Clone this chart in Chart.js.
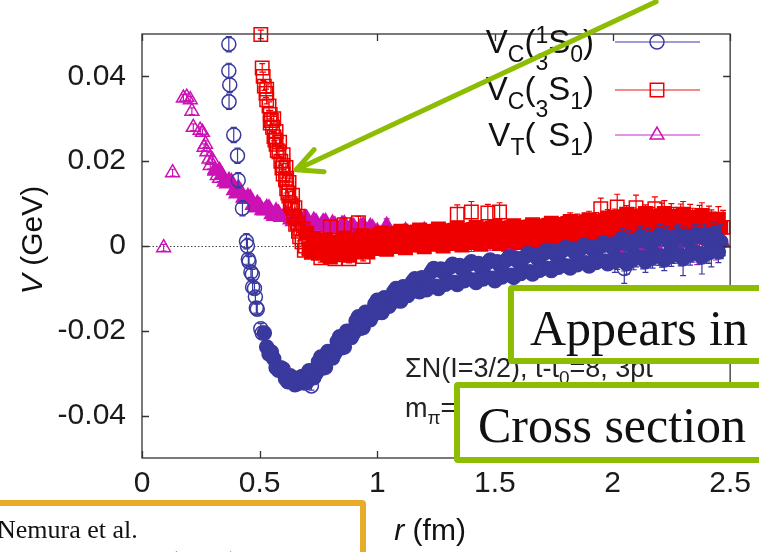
<!DOCTYPE html>
<html>
<head>
<meta charset="utf-8">
<script src="https://cdn.jsdelivr.net/npm/chart.js@4.4.1/dist/chart.umd.min.js"></script>
<style>
  html, body { margin: 0; padding: 0; background: #fff; overflow: hidden; }
  #wrap { position: relative; width: 759px; height: 552px; overflow: hidden; background: #fff; }
  #plot { position: absolute; left: 0; top: 0; }
  .tag {
    position: absolute; box-sizing: border-box; background: #fff;
    border: 6px solid #8cbd00; border-radius: 4px;
    font-family: "Liberation Serif", "Times New Roman", serif; color: #111; white-space: nowrap;
  }
  .tag span { position: absolute; font-size: 50px; line-height: 50px; }
  .cite {
    position: absolute; box-sizing: border-box; background: #fff;
    border: 6px solid #e9ab2a; border-radius: 4px;
    font-family: "Liberation Serif", "Times New Roman", serif; color: #111; white-space: nowrap;
  }
  .cite span { position: absolute; font-size: 26px; line-height: 26px; }
</style>
</head>
<body>
<div id="wrap">
  <canvas id="plot" width="759" height="552"></canvas>
  <div class="tag" style="left:508px; top:285px; width:300px; height:79px;"><span style="left:16px; top:12px;">Appears in</span></div>
  <div class="tag" style="left:454px; top:382px; width:360px; height:81px;"><span style="left:18px; top:12px;">Cross section</span></div>
  <div class="cite" style="left:-30px; top:500px; width:396px; height:90px;">
    <span style="left:21px; top:11px;">Nemura et al.</span>
    <span style="left:21px; top:42px;">Few Body Syst. (2013) 54:1223-1226</span>
  </div>
</div>
<script>
// axis ticks
const xTicks = [0, 0.5, 1, 1.5, 2, 2.5];
const xTickLabels = ['0', '0.5', '1', '1.5', '2', '2.5'];
const yTicks = [-0.04, -0.02, 0, 0.02, 0.04];
const yTickLabels = ['-0.04', '-0.02', '0', '0.02', '0.04'];

// V_C(1S0): r (fm), V (GeV), error (GeV)
// order: isolated short-range points | lattice band (even grid) | lattice band (odd grid) | stragglers
const r1S0 = [0.369,0.369,0.373,0.370,0.390,0.406,0.409,0.427,0.444,0.448,0.452,0.455,0.463,0.469,0.470,0.478,0.482,0.486,0.490,0.505,0.511,
  0.52,0.54,0.56,0.58,0.60,0.62,0.64,0.66,0.68,0.70,0.72,0.74,0.76,0.78,0.80,0.82,0.84,0.86,0.88,0.90,0.92,0.94,0.96,0.98,
  1.00,1.02,1.04,1.06,1.08,1.10,1.12,1.14,1.16,1.18,1.20,1.22,1.24,1.26,1.28,1.30,1.32,1.34,1.36,1.38,1.40,1.42,1.44,1.46,1.48,1.50,1.52,1.54,1.56,1.58,
  1.60,1.62,1.64,1.66,1.68,1.70,1.72,1.74,1.76,1.78,1.80,1.82,1.84,1.86,1.88,1.90,1.92,1.94,1.96,1.98,
  2.00,2.02,2.04,2.06,2.08,2.10,2.12,2.14,2.16,2.18,2.20,2.22,2.24,2.26,2.28,2.30,2.32,2.34,2.36,2.38,2.40,2.42,2.44,2.46,
  0.53,0.55,0.57,0.59,0.61,0.63,0.65,0.67,0.69,0.71,0.73,0.75,0.77,0.79,0.81,0.83,0.85,0.87,0.89,0.91,0.93,0.95,0.97,0.99,
  1.01,1.03,1.05,1.07,1.09,1.11,1.13,1.15,1.17,1.19,1.21,1.23,1.25,1.27,1.29,1.31,1.33,1.35,1.37,1.39,1.41,1.43,1.45,1.47,1.49,1.51,1.53,1.55,1.57,1.59,
  1.61,1.63,1.65,1.67,1.69,1.71,1.73,1.75,1.77,1.79,1.81,1.83,1.85,1.87,1.89,1.91,1.93,1.95,1.97,1.99,
  2.01,2.03,2.05,2.07,2.09,2.11,2.13,2.15,2.17,2.19,2.21,2.23,2.25,2.27,2.29,2.31,2.33,2.35,2.37,2.39,2.41,2.43,2.45,
  0.72,2.05];
const v1S0 = [0.0476,0.0413,0.0380,0.0340,0.0262,0.0213,0.0155,0.0089,0.0011,0.0000,-0.0031,-0.0037,-0.0062,-0.0067,-0.0097,-0.0100,-0.0120,-0.0146,-0.0149,-0.0195,-0.0205,
  -0.0205,-0.0255,-0.0266,-0.0293,-0.0290,-0.0320,-0.0314,-0.0325,-0.0308,-0.0322,-0.0295,-0.0301,-0.0262,-0.0286,-0.0249,-0.0253,-0.0214,-0.0238,-0.0201,-0.0205,-0.0167,-0.0192,-0.0157,-0.0164,
  -0.0128,-0.0157,-0.0125,-0.0134,-0.0100,-0.0130,-0.0099,-0.0109,-0.0077,-0.0108,-0.0076,-0.0095,-0.0053,-0.0100,-0.0062,-0.0082,-0.0043,-0.0091,-0.0054,-0.0075,-0.0037,-0.0086,-0.0050,-0.0071,-0.0033,-0.0082,-0.0045,-0.0065,-0.0026,-0.0074,
  -0.0037,-0.0057,-0.0018,-0.0066,-0.0029,-0.0049,-0.0010,-0.0058,-0.0022,-0.0042,-0.0004,-0.0052,-0.0016,-0.0036,0.0002,-0.0047,-0.0011,-0.0032,0.0007,-0.0042,
  -0.0004,-0.0030,0.0017,-0.0042,0.0002,-0.0024,0.0022,-0.0037,0.0006,-0.0020,0.0026,-0.0033,0.0010,-0.0016,0.0025,-0.0030,0.0013,-0.0013,0.0025,-0.0026,0.0017,-0.0009,0.0020,0.0010,
  -0.0238,-0.0250,-0.0287,-0.0287,-0.0313,-0.0306,-0.0327,-0.0311,-0.0323,-0.0294,-0.0311,-0.0273,-0.0288,-0.0249,-0.0264,-0.0225,-0.0240,-0.0201,-0.0216,-0.0177,-0.0194,-0.0156,-0.0174,-0.0137,
  -0.0156,-0.0122,-0.0142,-0.0108,-0.0129,-0.0096,-0.0117,-0.0084,-0.0106,-0.0075,-0.0103,-0.0061,-0.0095,-0.0054,-0.0090,-0.0050,-0.0086,-0.0046,-0.0082,-0.0043,-0.0080,-0.0041,-0.0078,-0.0039,-0.0076,-0.0037,-0.0073,-0.0033,-0.0069,-0.0029,
  -0.0065,-0.0025,-0.0061,-0.0021,-0.0057,-0.0017,-0.0053,-0.0013,-0.0050,-0.0010,-0.0047,-0.0007,-0.0044,-0.0004,-0.0041,-0.0002,-0.0039,0.0000,-0.0036,0.0003,
  -0.0037,0.0008,-0.0034,0.0011,-0.0031,0.0014,-0.0029,0.0016,-0.0027,0.0018,-0.0025,0.0020,-0.0023,0.0022,-0.0022,0.0023,-0.0020,0.0025,-0.0018,0.0027,-0.0016,0.0029,-0.0014,
  -0.0330,-0.0053];
const e1S0 = [0.0018,0.0018,0.0018,0.0018,0.0018,0.0018,0.0018,0.0018,0.0018,0.0018,0.0012,0.0012,0.0012,0.0012,0.0012,0.0012,0.0012,0.0012,0.0012,0.0012,0.0012,
  0.0008,0.0008,0.0008,0.0008,0.0008,0.0008,0.0008,0.0008,0.0008,0.0008,0.0008,0.0008,0.0008,0.0008,0.0008,0.0008,0.0008,0.0008,0.0008,0.0008,0.0008,0.0008,0.0008,0.0008,
  0.0010,0.0010,0.0010,0.0010,0.0010,0.0010,0.0010,0.0010,0.0010,0.0010,0.0010,0.0010,0.0010,0.0010,0.0010,0.0010,0.0010,0.0010,0.0010,0.0010,0.0010,0.0010,0.0010,0.0010,0.0010,0.0010,0.0010,0.0010,0.0010,0.0010,
  0.0015,0.0015,0.0015,0.0015,0.0015,0.0015,0.0015,0.0015,0.0015,0.0015,0.0015,0.0015,0.0015,0.0015,0.0015,0.0015,0.0015,0.0015,0.0015,0.0015,
  0.0025,0.0025,0.0025,0.0025,0.0025,0.0025,0.0025,0.0025,0.0025,0.0025,0.0025,0.0025,0.0025,0.0025,0.0025,0.0040,0.0025,0.0025,0.0025,0.0040,0.0025,0.0040,0.0025,0.0040,
  0.0008,0.0008,0.0008,0.0008,0.0008,0.0008,0.0008,0.0008,0.0008,0.0008,0.0008,0.0008,0.0008,0.0008,0.0008,0.0008,0.0008,0.0008,0.0008,0.0008,0.0008,0.0008,0.0008,0.0008,
  0.0010,0.0010,0.0010,0.0010,0.0010,0.0010,0.0010,0.0010,0.0010,0.0010,0.0010,0.0010,0.0010,0.0010,0.0010,0.0010,0.0010,0.0010,0.0010,0.0010,0.0010,0.0010,0.0010,0.0010,0.0010,0.0010,0.0010,0.0010,0.0010,0.0010,
  0.0015,0.0015,0.0015,0.0015,0.0015,0.0015,0.0015,0.0015,0.0015,0.0015,0.0015,0.0015,0.0015,0.0015,0.0015,0.0015,0.0015,0.0015,0.0015,0.0015,
  0.0025,0.0025,0.0025,0.0025,0.0025,0.0025,0.0025,0.0025,0.0025,0.0025,0.0025,0.0025,0.0025,0.0025,0.0025,0.0025,0.0025,0.0025,0.0025,0.0025,0.0025,0.0025,0.0025,
  0.0010,0.0035];

// V_C(3S1)
const r3S1 = [0.505,0.511,0.515,0.520,0.527,0.530,0.530,0.540,0.545,0.545,0.550,0.555,0.561,0.565,0.570,0.575,0.582,0.590,0.595,0.600,0.600,0.610,0.615,0.615,0.620,0.624,0.630,0.635,0.640,0.645,0.653,0.660,0.665,0.670,0.675,0.680,0.690,0.695,
  0.560,0.570,0.585,0.600,0.612,0.625,0.640,0.650,0.665,0.685,
  0.70,0.72,0.74,0.76,0.78,0.80,0.82,0.84,0.86,0.88,0.90,0.92,0.94,0.96,0.98,1.00,1.02,1.04,1.06,1.08,1.10,1.12,1.14,1.16,1.18,1.20,1.22,1.24,1.26,1.28,
  1.30,1.32,1.34,1.36,1.38,1.40,1.42,1.44,1.46,1.48,1.50,1.52,1.54,1.56,1.58,1.60,1.62,1.64,1.66,1.68,1.70,1.72,1.74,1.76,1.78,
  1.80,1.82,1.84,1.86,1.88,1.90,1.92,1.94,1.96,1.98,2.00,2.02,2.04,2.06,2.08,2.10,2.12,2.14,2.16,2.18,
  2.20,2.22,2.24,2.26,2.28,2.30,2.32,2.34,2.36,2.38,2.40,2.42,2.44,2.46,
  0.71,0.73,0.75,0.77,0.79,0.81,0.83,0.85,0.87,0.89,0.91,0.93,0.95,0.97,0.99,1.01,1.03,1.05,1.07,1.09,1.11,1.13,1.15,1.17,1.19,1.21,1.23,1.25,1.27,1.29,
  1.31,1.33,1.35,1.37,1.39,1.41,1.43,1.45,1.47,1.49,1.51,1.53,1.55,1.57,1.59,1.61,1.63,1.65,1.67,1.69,1.71,1.73,1.75,1.77,1.79,
  1.81,1.83,1.85,1.87,1.89,1.91,1.93,1.95,1.97,1.99,2.01,2.03,2.05,2.07,2.09,2.11,2.13,2.15,2.17,2.19,
  2.21,2.23,2.25,2.27,2.29,2.31,2.33,2.35,2.37,2.39,2.41,2.43,2.45,
  0.76,0.80,0.82,0.86,0.88,0.92,0.94,1.34,1.40,1.47,1.52,1.95,2.02,2.10,2.18,2.47];
const v3S1 = [0.0499,0.0420,0.0400,0.0377,0.0360,0.0370,0.0345,0.0330,0.0310,0.0290,0.0296,0.0280,0.0258,0.0250,0.0240,0.0225,0.0222,0.0200,0.0184,0.0190,0.0170,0.0156,0.0160,0.0135,0.0125,0.0118,0.0100,0.0095,0.0089,0.0070,0.0051,0.0055,0.0035,0.0022,0.0040,0.0010,-0.0010,0.0000,
  0.0300,0.0270,0.0245,0.0215,0.0185,0.0150,0.0120,0.0090,0.0070,0.0040,
  0.0030,-0.0015,0.0008,-0.0013,0.0015,-0.0026,0.0002,-0.0015,0.0016,-0.0022,0.0008,-0.0008,0.0024,-0.0014,0.0016,0.0000,0.0031,-0.0008,0.0021,0.0004,0.0035,-0.0004,0.0025,0.0007,0.0038,-0.0002,0.0027,0.0009,0.0040,0.0000,
  0.0029,0.0011,0.0042,0.0002,0.0031,0.0013,0.0044,0.0004,0.0033,0.0015,0.0046,0.0006,0.0035,0.0017,0.0048,0.0008,0.0037,0.0020,0.0050,0.0011,0.0040,0.0023,0.0054,0.0015,0.0044,
  0.0027,0.0058,0.0019,0.0048,0.0031,0.0062,0.0023,0.0052,0.0035,0.0066,0.0022,0.0058,0.0037,0.0075,0.0025,0.0061,0.0038,0.0077,0.0027,0.0062,
  0.0040,0.0077,0.0027,0.0061,0.0038,0.0075,0.0025,0.0059,0.0036,0.0072,0.0021,0.0055,0.0033,0.0044,
  -0.0007,0.0018,-0.0017,0.0011,-0.0021,0.0009,-0.0021,0.0010,-0.0018,0.0014,-0.0014,0.0018,-0.0010,0.0022,-0.0006,0.0026,-0.0003,0.0028,-0.0001,0.0030,0.0001,0.0032,0.0002,0.0033,0.0003,0.0034,0.0004,0.0035,0.0005,0.0036,
  0.0006,0.0037,0.0007,0.0038,0.0008,0.0039,0.0009,0.0040,0.0010,0.0041,0.0011,0.0042,0.0012,0.0043,0.0013,0.0044,0.0015,0.0045,0.0016,0.0047,0.0018,0.0049,0.0020,0.0051,0.0022,
  0.0053,0.0024,0.0055,0.0026,0.0057,0.0028,0.0059,0.0030,0.0061,0.0032,0.0067,0.0030,0.0069,0.0031,0.0070,0.0032,0.0071,0.0033,0.0071,0.0033,
  0.0071,0.0033,0.0070,0.0032,0.0069,0.0031,0.0068,0.0029,0.0066,0.0027,0.0064,0.0026,0.0063,
  -0.0028,0.0045,-0.0030,0.0050,-0.0030,0.0055,-0.0025,0.0075,0.0080,0.0078,0.0080,0.0088,0.0092,0.0090,0.0088,0.0044];
const e3S1 = [0.0010,0.0010,0.0010,0.0010,0.0010,0.0010,0.0010,0.0010,0.0010,0.0010,0.0010,0.0010,0.0010,0.0010,0.0010,0.0010,0.0010,0.0010,0.0010,0.0010,0.0010,0.0010,0.0010,0.0010,0.0010,0.0010,0.0010,0.0010,0.0010,0.0010,0.0010,0.0010,0.0010,0.0010,0.0010,0.0010,0.0010,0.0010,
  0.0010,0.0010,0.0010,0.0010,0.0010,0.0010,0.0010,0.0010,0.0010,0.0010,
  0.0008,0.0008,0.0008,0.0008,0.0008,0.0008,0.0008,0.0008,0.0008,0.0008,0.0008,0.0008,0.0008,0.0008,0.0008,0.0008,0.0008,0.0008,0.0008,0.0008,0.0008,0.0008,0.0008,0.0008,0.0008,0.0008,0.0008,0.0008,0.0008,0.0008,
  0.0012,0.0012,0.0012,0.0012,0.0012,0.0012,0.0012,0.0012,0.0012,0.0012,0.0012,0.0012,0.0012,0.0012,0.0012,0.0012,0.0012,0.0012,0.0012,0.0012,0.0012,0.0012,0.0012,0.0012,0.0012,
  0.0020,0.0020,0.0020,0.0020,0.0020,0.0020,0.0020,0.0020,0.0020,0.0020,0.0020,0.0020,0.0020,0.0020,0.0020,0.0020,0.0020,0.0020,0.0020,0.0020,
  0.0030,0.0030,0.0030,0.0030,0.0030,0.0030,0.0030,0.0030,0.0030,0.0030,0.0030,0.0030,0.0030,0.0030,
  0.0008,0.0008,0.0008,0.0008,0.0008,0.0008,0.0008,0.0008,0.0008,0.0008,0.0008,0.0008,0.0008,0.0008,0.0008,0.0008,0.0008,0.0008,0.0008,0.0008,0.0008,0.0008,0.0008,0.0008,0.0008,0.0008,0.0008,0.0008,0.0008,0.0008,
  0.0012,0.0012,0.0012,0.0012,0.0012,0.0012,0.0012,0.0012,0.0012,0.0012,0.0012,0.0012,0.0012,0.0012,0.0012,0.0012,0.0012,0.0012,0.0012,0.0012,0.0012,0.0012,0.0012,0.0012,0.0012,
  0.0020,0.0020,0.0020,0.0020,0.0020,0.0020,0.0020,0.0020,0.0020,0.0020,0.0020,0.0020,0.0020,0.0020,0.0020,0.0020,0.0020,0.0020,0.0020,0.0020,
  0.0030,0.0030,0.0030,0.0030,0.0030,0.0030,0.0030,0.0030,0.0030,0.0030,0.0030,0.0030,0.0030,
  0.0010,0.0015,0.0010,0.0015,0.0010,0.0015,0.0010,0.0022,0.0025,0.0020,0.0022,0.0025,0.0030,0.0030,0.0028,0.0040];

// V_T(3S1)
const rT = [0.092,0.130,0.176,0.190,0.205,0.212,0.218,0.247,0.257,0.264,0.270,0.276,0.285,0.290,0.310,0.330,
  0.30,0.32,0.34,0.36,0.38,0.40,0.42,0.44,0.46,0.48,0.50,0.52,0.54,0.56,0.58,0.60,0.62,0.64,0.66,0.68,0.70,0.72,0.74,0.76,0.78,0.80,0.82,0.84,0.86,0.88,0.90,0.92,0.94,0.96,0.98,1.00,
  1.04,1.08,1.12,1.16,1.20,1.24,1.28,1.32,1.36,1.40,1.44,1.48,1.52,1.56,1.60,1.64,1.68,1.72,1.76,1.80,1.84,1.88,1.92,1.96,
  2.00,2.04,2.08,2.12,2.16,2.20,2.24,2.28,2.32,2.36,2.40,2.44,2.47,
  0.31,0.33,0.35,0.37,0.39,0.41,0.43,0.45,0.47,0.49,0.51,0.53,0.55,0.57,0.59,0.61,0.63,0.65,0.67,0.69,0.71,0.73,0.75,0.77,0.79,0.81,0.83,0.85,0.87,0.89,0.91,0.93,0.95,0.97,0.99];
const vT = [-0.0004,0.0173,0.0349,0.0351,0.0345,0.0318,0.0280,0.0273,0.0268,0.0233,0.0240,0.0222,0.0205,0.0190,0.0180,0.0160,
  0.0202,0.0166,0.0167,0.0147,0.0152,0.0123,0.0128,0.0110,0.0114,0.0090,0.0095,0.0083,0.0090,0.0070,0.0078,0.0068,0.0077,0.0058,0.0067,0.0057,0.0066,0.0048,0.0057,0.0048,0.0058,0.0041,0.0050,0.0042,0.0053,0.0036,0.0046,0.0038,0.0049,0.0032,0.0043,0.0035,
  0.0049,0.0022,0.0036,0.0022,0.0037,0.0010,0.0025,0.0012,0.0028,0.0002,0.0017,0.0005,0.0022,-0.0003,0.0014,0.0002,0.0020,-0.0005,0.0012,0.0000,0.0018,-0.0007,0.0010,-0.0001,
  0.0025,-0.0016,0.0012,-0.0006,0.0024,-0.0016,0.0012,-0.0005,0.0025,-0.0014,0.0014,-0.0003,0.0007,
  0.0177,0.0178,0.0151,0.0155,0.0131,0.0137,0.0113,0.0117,0.0096,0.0101,0.0084,0.0091,0.0074,0.0083,0.0068,0.0077,0.0062,0.0071,0.0057,0.0066,0.0051,0.0061,0.0047,0.0057,0.0044,0.0054,0.0041,0.0052,0.0039,0.0049,0.0036,0.0047,0.0034,0.0046,0.0033];
const eT = [0.0008,0.0008,0.0008,0.0008,0.0008,0.0008,0.0008,0.0008,0.0008,0.0008,0.0008,0.0008,0.0008,0.0008,0.0008,0.0008,
  0.0008,0.0008,0.0008,0.0008,0.0008,0.0008,0.0008,0.0008,0.0008,0.0008,0.0008,0.0008,0.0008,0.0008,0.0008,0.0008,0.0008,0.0008,0.0008,0.0008,0.0008,0.0008,0.0008,0.0008,0.0008,0.0008,0.0008,0.0008,0.0008,0.0008,0.0008,0.0008,0.0008,0.0008,0.0008,0.0008,
  0.0015,0.0015,0.0015,0.0015,0.0015,0.0015,0.0015,0.0015,0.0015,0.0015,0.0015,0.0015,0.0015,0.0015,0.0015,0.0015,0.0015,0.0015,0.0015,0.0015,0.0015,0.0015,0.0015,0.0015,
  0.0030,0.0030,0.0030,0.0030,0.0030,0.0030,0.0030,0.0030,0.0030,0.0030,0.0030,0.0030,0.0030,
  0.0008,0.0008,0.0008,0.0008,0.0008,0.0008,0.0008,0.0008,0.0008,0.0008,0.0008,0.0008,0.0008,0.0008,0.0008,0.0008,0.0008,0.0008,0.0008,0.0008,0.0008,0.0008,0.0008,0.0008,0.0008,0.0008,0.0008,0.0008,0.0008,0.0008,0.0008,0.0008,0.0008,0.0008,0.0008];

// key entries: [text, shift] where shift 0 = normal, 1 = subscript; stacked tokens carry [upper, -1, lower]
const keyLabels = [
  [['V', 0], ['C', 1], ['(', 0], ['1', -1, '3'], ['S', 0], ['0', 1], [')', 0]],
  [['V', 0], ['C', 1], ['(', 0], ['', -1, '3'], ['S', 0], ['1', 1], [')', 0]],
  [['V', 0], ['T', 1], ['(', 0], ['', -1, ''], ['S', 0], ['1', 1], [')', 0]]
];
const seriesColors = ['#39399e', '#ee0000', '#cc12b4'];
const keyLineColors = ['#7c7cc8', '#f26262', '#de6ede'];
const markerStyles = ['circle', 'rect', 'triangle'];
const markerRadii = [7, 9.5, 8];
// index ranges of the dense lattice bands (drawn as solid marks)
const denseRanges = [[21, 216], [48, 225], [18, 124]];

const annotation1 = ['\u03A3N(I=3/2), t-t', '0', '=8, 3pt'];
const annotation2 = ['m', '\u03C0', '=570 MeV'];

const SANS = '"Liberation Sans", Arial, Helvetica, sans-serif';

function toPoints(rs, vs) { return rs.map((r, i) => ({ x: r, y: vs[i] })); }

const errorBars = {
  id: 'errorBars',
  beforeDatasetDraw(chart, args) {
    const ds = chart.data.datasets[args.index];
    if (!ds.errors) return;
    const ctx = chart.ctx, ys = chart.scales.y;
    ctx.save();
    ctx.strokeStyle = ds.borderColor;
    ctx.lineWidth = 1.2;
    ctx.beginPath();
    args.meta.data.forEach((pt, i) => {
      const v = ds.data[i].y, e = ds.errors[i];
      const t = ys.getPixelForValue(v + e), b = ys.getPixelForValue(v - e);
      ctx.moveTo(pt.x, t); ctx.lineTo(pt.x, b);
      ctx.moveTo(pt.x - 3, t); ctx.lineTo(pt.x + 3, t);
      ctx.moveTo(pt.x - 3, b); ctx.lineTo(pt.x + 3, b);
    });
    ctx.stroke();
    ctx.restore();
  }
};

const zeroLine = {
  id: 'zeroLine',
  beforeDatasetsDraw(chart) {
    const { ctx, chartArea: a, scales: { y } } = chart;
    const y0 = Math.round(y.getPixelForValue(0)) + 0.5;
    ctx.save();
    ctx.strokeStyle = '#444';
    ctx.lineWidth = 1;
    ctx.setLineDash([1.5, 2]);
    ctx.beginPath(); ctx.moveTo(a.left, y0); ctx.lineTo(a.right, y0); ctx.stroke();
    ctx.restore();
  }
};

function drawMarker(ctx, style, x, y, r) {
  ctx.fillStyle = 'rgba(0,0,0,0)';
  Chart.helpers.drawPoint(ctx, { pointStyle: style, radius: r, borderWidth: 1.5, rotation: 0 }, x, y);
}

const decorations = {
  id: 'decorations',
  afterDraw(chart) {
    const { ctx, chartArea: a, scales: { x, y } } = chart;
    ctx.save();
    // frame with inward ticks on all four sides
    ctx.strokeStyle = '#333';
    ctx.lineWidth = 1.3;
    ctx.strokeRect(a.left, a.top, a.right - a.left, a.bottom - a.top);
    ctx.beginPath();
    yTicks.forEach(v => {
      const p = Math.round(y.getPixelForValue(v)) + 0.5;
      ctx.moveTo(a.left, p); ctx.lineTo(a.left + 7, p);
      ctx.moveTo(a.right, p); ctx.lineTo(a.right - 7, p);
    });
    xTicks.forEach(v => {
      const p = Math.round(x.getPixelForValue(v)) + 0.5;
      ctx.moveTo(p, a.bottom); ctx.lineTo(p, a.bottom - 7);
      ctx.moveTo(p, a.top); ctx.lineTo(p, a.top + 7);
    });
    ctx.stroke();

    // axis titles
    ctx.fillStyle = '#111';
    ctx.textBaseline = 'alphabetic';
    ctx.font = 'italic 30px ' + SANS;
    const wr = ctx.measureText('r').width;
    ctx.font = '30px ' + SANS;
    const wfm = ctx.measureText(' (fm)').width;
    let xt = (a.left + a.right) / 2 - 6 - (wr + wfm) / 2;
    ctx.font = 'italic 30px ' + SANS; ctx.fillText('r', xt, 540);
    ctx.font = '30px ' + SANS; ctx.fillText(' (fm)', xt + wr, 540);

    ctx.save();
    ctx.translate(42, (a.top + a.bottom) / 2 - 6);
    ctx.rotate(-Math.PI / 2);
    ctx.font = 'italic 30px ' + SANS;
    const wv = ctx.measureText('V').width;
    ctx.font = '30px ' + SANS;
    const wg = ctx.measureText(' (GeV)').width;
    const x0 = -(wv + wg) / 2;
    ctx.font = 'italic 30px ' + SANS; ctx.fillText('V', x0, 0);
    ctx.font = '30px ' + SANS; ctx.fillText(' (GeV)', x0 + wv, 0);
    ctx.restore();

    // run annotation
    ctx.fillStyle = '#222';
    ctx.font = '27px ' + SANS;
    let tx = 405;
    ctx.fillText(annotation1[0], tx, 377); tx += ctx.measureText(annotation1[0]).width;
    ctx.font = '19px ' + SANS; ctx.fillText(annotation1[1], tx, 384); tx += ctx.measureText(annotation1[1]).width;
    ctx.font = '27px ' + SANS; ctx.fillText(annotation1[2], tx, 377);
    tx = 405;
    ctx.fillText(annotation2[0], tx, 417); tx += ctx.measureText(annotation2[0]).width;
    ctx.font = '19px ' + SANS; ctx.fillText(annotation2[1], tx, 424); tx += ctx.measureText(annotation2[1]).width;
    ctx.font = '27px ' + SANS; ctx.fillText(annotation2[2], tx, 417);

    // key
    const big = '33px ' + SANS, small = '23px ' + SANS;
    const baselines = [53, 100, 146];
    const lineY = [42, 90, 135];
    keyLabels.forEach((tokens, k) => {
      const widths = tokens.map(t => {
        if (t[1] === -1) { ctx.font = small; return ctx.measureText('3').width; }
        ctx.font = t[1] === 1 ? small : big;
        return ctx.measureText(t[0]).width;
      });
      let px = 594 - widths.reduce((s, w) => s + w, 0);
      const base = baselines[k];
      ctx.fillStyle = '#111';
      tokens.forEach((t, i) => {
        if (t[1] === -1) {
          ctx.font = small;
          if (t[0]) ctx.fillText(t[0], px, base - 10);
          if (t[2]) ctx.fillText(t[2], px, base + 17);
        } else if (t[1] === 1) {
          ctx.font = small; ctx.fillText(t[0], px, base + 9);
        } else {
          ctx.font = big; ctx.fillText(t[0], px, base);
        }
        px += widths[i];
      });
      ctx.strokeStyle = keyLineColors[k];
      ctx.lineWidth = 1.4;
      ctx.beginPath(); ctx.moveTo(615, lineY[k]); ctx.lineTo(700, lineY[k]); ctx.stroke();
      ctx.strokeStyle = seriesColors[k];
      ctx.lineWidth = 1.5;
      drawMarker(ctx, markerStyles[k], 657, lineY[k], markerRadii[k]);
    });

    // pointer arrow onto the 3S1 central potential
    const tipX = x.getPixelForValue(0.655), tipY = y.getPixelForValue(0.018);
    ctx.strokeStyle = '#8cbd00';
    ctx.lineWidth = 5;
    ctx.lineCap = 'round';
    ctx.lineJoin = 'round';
    ctx.beginPath();
    ctx.moveTo(tipX, tipY); ctx.lineTo(tipX + 360, tipY - 168);
    ctx.moveTo(tipX + 18, tipY - 20); ctx.lineTo(tipX, tipY); ctx.lineTo(tipX + 28, tipY + 2);
    ctx.stroke();
    ctx.restore();
  }
};

const mkSet = (k, rs, vs, es) => ({
  data: toPoints(rs, vs),
  errors: es,
  showLine: false,
  pointStyle: markerStyles[k],
  pointRadius: markerRadii[k],
  pointBorderWidth: 1.5,
  borderColor: seriesColors[k],
  backgroundColor: 'rgba(0,0,0,0)',
  pointBackgroundColor: c => (c.dataIndex >= denseRanges[k][0] && c.dataIndex < denseRanges[k][1]) ? seriesColors[k] : 'rgba(0,0,0,0)',
  clip: false
});

new Chart(document.getElementById('plot'), {
  type: 'scatter',
  data: {
    datasets: [
      mkSet(0, r1S0, v1S0, e1S0),
      mkSet(1, r3S1, v3S1, e3S1),
      mkSet(2, rT, vT, eT)
    ]
  },
  options: {
    responsive: false,
    devicePixelRatio: 1,
    animation: false,
    events: [],
    layout: { padding: { top: 8, right: 21, left: 0, bottom: 0 } },
    plugins: { legend: { display: false }, tooltip: { enabled: false } },
    scales: {
      x: {
        type: 'linear', min: 0, max: 2.5,
        afterBuildTicks: s => { s.ticks = xTicks.map(v => ({ value: v })); },
        afterFit: s => { s.height = 94; },
        ticks: {
          callback: (v, i) => xTickLabels[i],
          font: { family: SANS, size: 30 }, color: '#1a1a1a',
          padding: 8, maxRotation: 0, autoSkip: false
        },
        grid: { display: false, drawTicks: false },
        border: { display: false }
      },
      y: {
        type: 'linear', min: -0.05, max: 0.05,
        afterBuildTicks: s => { s.ticks = yTicks.map(v => ({ value: v })); },
        afterFit: s => { s.width = 142; },
        ticks: {
          callback: (v, i) => yTickLabels[i],
          font: { family: SANS, size: 30 }, color: '#1a1a1a',
          padding: 16, autoSkip: false
        },
        grid: { display: false, drawTicks: false },
        border: { display: false }
      }
    }
  },
  plugins: [zeroLine, errorBars, decorations]
});
</script>
</body>
</html>
